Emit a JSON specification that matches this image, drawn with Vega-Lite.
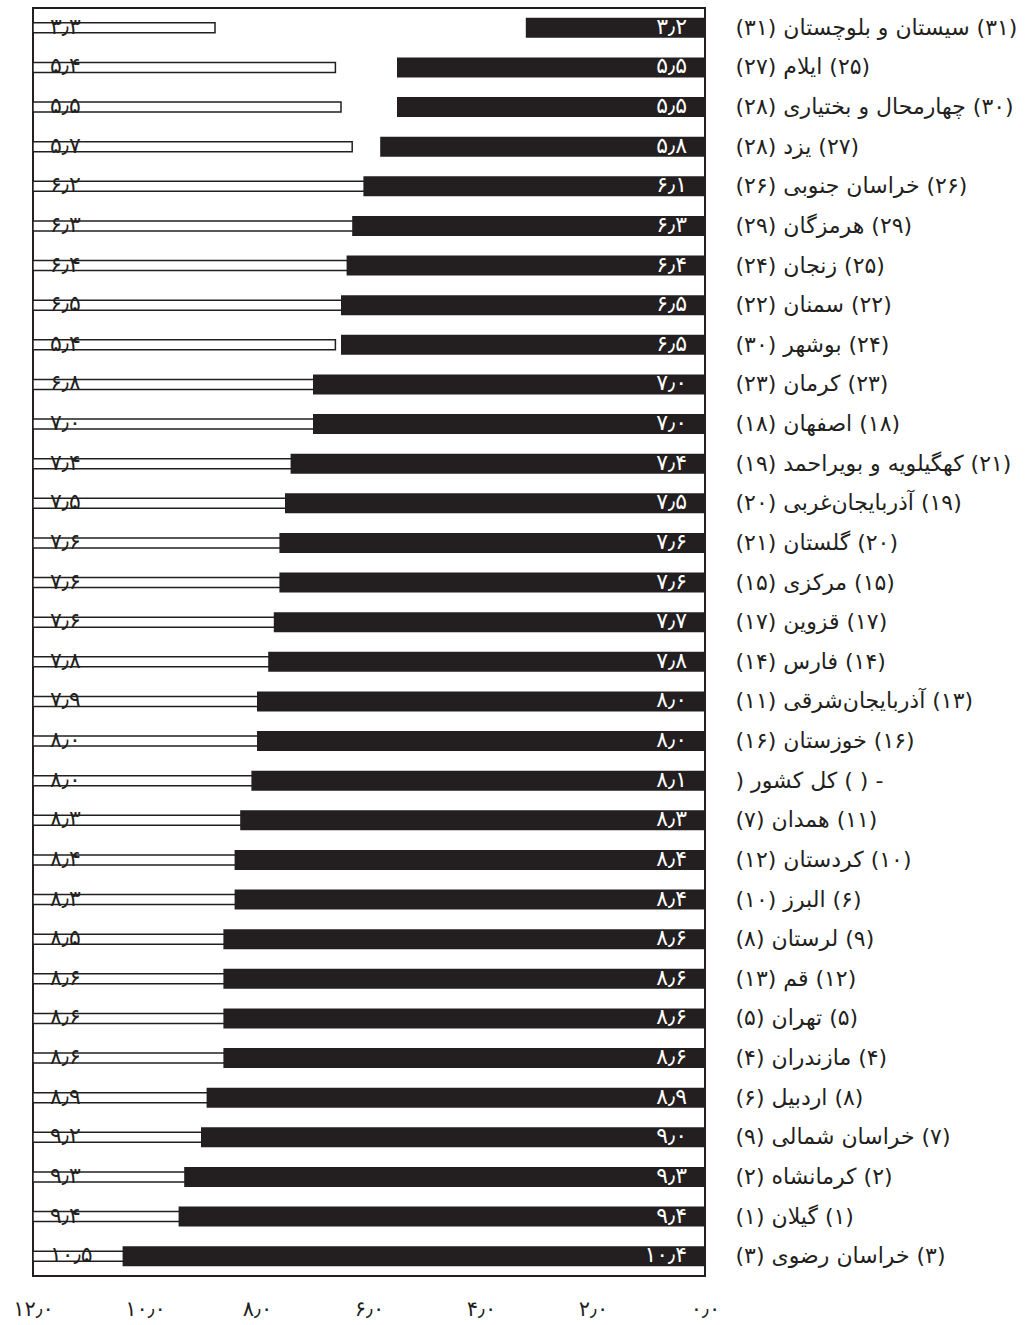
{
  "$schema": "https://vega.github.io/schema/vega-lite/v6.json",
  "width": 672,
  "height": 1268,
  "autosize": {"type": "none"},
  "padding": {"left": 33, "top": 8, "right": 327, "bottom": 49},
  "background": "white",
  "data": {
    "values": [
      {"label": "\u2067(۳۱) سیستان و بلوچستان (۳۱)\u2069", "prev": 3.25, "cur": 3.2},
      {"label": "\u2067(۲۵) ایلام (۲۷)\u2069", "prev": 5.4, "cur": 5.5},
      {"label": "\u2067(۳۰) چهارمحال و بختیاری (۲۸)\u2069", "prev": 5.5, "cur": 5.5},
      {"label": "\u2067(۲۷) یزد (۲۸)\u2069", "prev": 5.7, "cur": 5.8},
      {"label": "\u2067(۲۶) خراسان جنوبی (۲۶)\u2069", "prev": 6.2, "cur": 6.1},
      {"label": "\u2067(۲۹) هرمزگان (۲۹)\u2069", "prev": 6.3, "cur": 6.3},
      {"label": "\u2067(۲۵) زنجان (۲۴)\u2069", "prev": 6.4, "cur": 6.4},
      {"label": "\u2067(۲۲) سمنان (۲۲)\u2069", "prev": 6.5, "cur": 6.5},
      {"label": "\u2067(۲۴) بوشهر (۳۰)\u2069", "prev": 5.4, "cur": 6.5},
      {"label": "\u2067(۲۳) کرمان (۲۳)\u2069", "prev": 6.8, "cur": 7.0},
      {"label": "\u2067(۱۸) اصفهان (۱۸)\u2069", "prev": 7.0, "cur": 7.0},
      {"label": "\u2067(۲۱) کهگیلویه و بویراحمد (۱۹)\u2069", "prev": 7.4, "cur": 7.4},
      {"label": "\u2067(۱۹) آذربایجان\u200cغربی (۲۰)\u2069", "prev": 7.5, "cur": 7.5},
      {"label": "\u2067(۲۰) گلستان (۲۱)\u2069", "prev": 7.6, "cur": 7.6},
      {"label": "\u2067(۱۵) مرکزی (۱۵)\u2069", "prev": 7.6, "cur": 7.6},
      {"label": "\u2067(۱۷) قزوین (۱۷)\u2069", "prev": 7.6, "cur": 7.7},
      {"label": "\u2067(۱۴) فارس (۱۴)\u2069", "prev": 7.8, "cur": 7.8},
      {"label": "\u2067(۱۳) آذربایجان\u200cشرقی (۱۱)\u2069", "prev": 7.9, "cur": 8.0},
      {"label": "\u2067(۱۶) خوزستان (۱۶)\u2069", "prev": 8.0, "cur": 8.0},
      {"label": "\u2067-   ( ) کل کشور (\u2069", "prev": 8.0, "cur": 8.1},
      {"label": "\u2067(۱۱) همدان (۷)\u2069", "prev": 8.3, "cur": 8.3},
      {"label": "\u2067(۱۰) کردستان (۱۲)\u2069", "prev": 8.4, "cur": 8.4},
      {"label": "\u2067(۶) البرز (۱۰)\u2069", "prev": 8.3, "cur": 8.4},
      {"label": "\u2067(۹) لرستان (۸)\u2069", "prev": 8.5, "cur": 8.6},
      {"label": "\u2067(۱۲) قم (۱۳)\u2069", "prev": 8.6, "cur": 8.6},
      {"label": "\u2067(۵) تهران (۵)\u2069", "prev": 8.6, "cur": 8.6},
      {"label": "\u2067(۴) مازندران (۴)\u2069", "prev": 8.6, "cur": 8.6},
      {"label": "\u2067(۸) اردبیل (۶)\u2069", "prev": 8.9, "cur": 8.9},
      {"label": "\u2067(۷) خراسان شمالی (۹)\u2069", "prev": 9.2, "cur": 9.0},
      {"label": "\u2067(۲) کرمانشاه (۲)\u2069", "prev": 9.3, "cur": 9.3},
      {"label": "\u2067(۱) گیلان (۱)\u2069", "prev": 9.4, "cur": 9.4},
      {"label": "\u2067(۳) خراسان رضوی (۳)\u2069", "prev": 10.5, "cur": 10.4}
    ]
  },
  "encoding": {
    "y": {
      "field": "label",
      "type": "nominal",
      "sort": null,
      "scale": {"paddingInner": 0, "paddingOuter": 0},
      "axis": {
        "orient": "right",
        "title": null,
        "ticks": false,
        "domain": false,
        "labelAlign": "left",
        "labelPadding": 30,
        "labelFontSize": 22,
        "labelFont": "DejaVu Sans",
        "labelColor": "#231f20",
        "labelLimit": 400
      }
    }
  },
  "layer": [
    {
      "layer": [
        {
          "mark": {"type": "bar", "height": 10, "fill": "white", "stroke": "#231f20", "strokeWidth": 1.5},
          "encoding": {
            "x": {"field": "prev", "type": "quantitative", "scale": {"domain": [0, 12]}, "axis": null}
          }
        },
        {
          "mark": {"type": "text", "align": "left", "baseline": "middle", "dx": 17, "dy": -1, "fontSize": 22, "font": "DejaVu Sans", "color": "#231f20"},
          "encoding": {
            "x": {"datum": 0, "type": "quantitative"},
            "text": {"field": "prev", "type": "quantitative", "format": ".1f"}
          }
        }
      ]
    },
    {
      "layer": [
        {
          "mark": {"type": "bar", "height": 20, "color": "#231f20"},
          "encoding": {
            "x": {
              "field": "cur",
              "type": "quantitative",
              "scale": {"domain": [0, 12], "reverse": true},
              "axis": {
                "orient": "bottom",
                "title": null,
                "values": [0, 2, 4, 6, 8, 10, 12],
                "format": ".1f",
                "ticks": false,
                "domain": false,
                "grid": false,
                "labelFlush": false,
                "labelPadding": 22,
                "labelFontSize": 21,
                "labelFont": "DejaVu Sans",
                "labelColor": "#231f20"
              }
            }
          }
        },
        {
          "mark": {"type": "text", "align": "right", "baseline": "middle", "dx": -18, "dy": -1, "fontSize": 22, "font": "DejaVu Sans", "color": "white"},
          "encoding": {
            "x": {"datum": 0, "type": "quantitative"},
            "text": {"field": "cur", "type": "quantitative", "format": ".1f"}
          }
        }
      ]
    }
  ],
  "resolve": {"scale": {"x": "independent"}, "axis": {"x": "independent"}},
  "config": {
    "view": {"stroke": "#231f20", "strokeWidth": 2},
    "locale": {
      "number": {
        "decimal": "٫",
        "thousands": ",",
        "grouping": [3],
        "currency": ["", ""],
        "numerals": ["۰", "۱", "۲", "۳", "۴", "۵", "۶", "۷", "۸", "۹"]
      }
    }
  }
}
